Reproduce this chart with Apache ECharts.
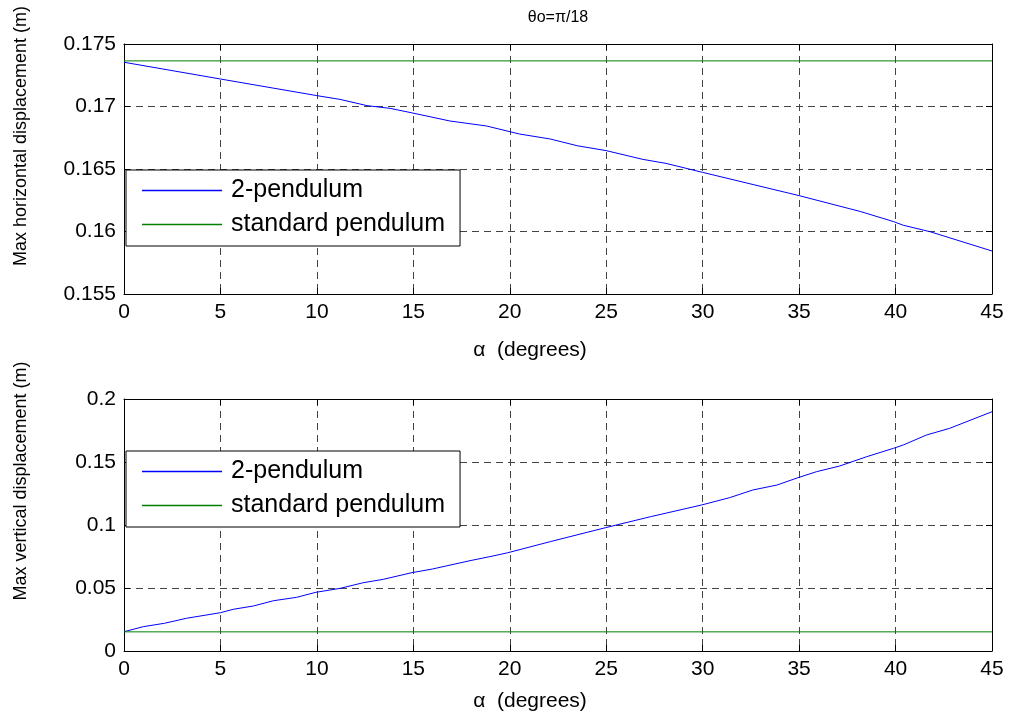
<!DOCTYPE html>
<html>
<head>
<meta charset="utf-8">
<script src="https://cdn.jsdelivr.net/npm/echarts@6/dist/echarts.min.js"></script>
<style>
html,body{margin:0;padding:0;background:#fff;}
#chart{width:1010px;height:721px;}
</style>
</head>
<body>
<div id="chart"></div>
<script>
// ---- data ----
var titleText = 'θo=π/18';
var seriesNames = ['2-pendulum', 'standard pendulum'];

// top: max horizontal displacement (m)
var hAlpha = [0, 5, 10, 11.2, 12.6, 13.8, 14.9, 16.9, 18.8, 20.5, 22.1, 23.5, 25, 26.9, 28.1, 30, 35, 38.2, 39.9, 40.4, 41.8, 45];
var hTwo   = [0.17354, 0.1722, 0.17087, 0.17057, 0.17007, 0.16985, 0.1695, 0.16884, 0.16844, 0.1678, 0.1674, 0.16686, 0.16647, 0.16577, 0.16545, 0.16473, 0.16287, 0.16159, 0.16079, 0.1605, 0.15998, 0.15844];
var hStdAlpha = [0, 45];
var hStd   = [0.17365, 0.17365];

// bottom: max vertical displacement (m)
var vAlpha = [0, 1.0, 2.1, 3.25, 5, 5.67, 6.7, 7.75, 8.95, 9.95, 11.2, 12.4, 13.45, 14.93, 16.0, 17.94, 18.97, 19.9, 22.1, 24.97, 27.3, 29.95, 31.4, 32.6, 33.85, 34.93, 35.9, 37.1, 38.5, 39.9, 40.4, 41.6, 42.8, 45];
var vTwo   = [0.0153, 0.0193, 0.0220, 0.0260, 0.0304, 0.0331, 0.0357, 0.0399, 0.0426, 0.0466, 0.0497, 0.0542, 0.0569, 0.0622, 0.0651, 0.0717, 0.0749, 0.0780, 0.0868, 0.0979, 0.1066, 0.1159, 0.1217, 0.1278, 0.1317, 0.1375, 0.1423, 0.1468, 0.1542, 0.1609, 0.1635, 0.1714, 0.1767, 0.1899];
var vStdAlpha = [0, 45];
var vStd   = [0.0152, 0.0152];

var xTicks = {min: 0, max: 45, interval: 5};
var yTopTicks = {min: 0.155, max: 0.175, interval: 0.005};
var yBotTicks = {min: 0, max: 0.2, interval: 0.05};

var xLabel = 'α  (degrees)';
var yTopLabel = 'Max horizontal displacement (m)';
var yBotLabel = 'Max vertical displacement (m)';

// ---- chart ----
function pairs(xs, ys){ return xs.map(function(x,i){ return [x, ys[i]]; }); }
var FONT = '"Liberation Sans", Arial, Helvetica, sans-serif';
var TICKFS = 21;
function fmt(v){ return String(parseFloat(v.toFixed(4))); }
var gridLine = {show:true, lineStyle:{color:'#444', type:[7,5], width:1}};

function xAxisPair(gi){
  return [
    {type:'value', gridIndex:gi, position:'bottom', min:xTicks.min, max:xTicks.max, interval:xTicks.interval,
     axisLine:{show:true, onZero:false, lineStyle:{color:'#000', width:1}},
     axisTick:{show:true, inside:true, length:6, lineStyle:{color:'#000'}},
     axisLabel:{color:'#000', fontSize:TICKFS, fontFamily:FONT, margin:8, formatter:fmt},
     splitLine:gridLine},
    {type:'value', gridIndex:gi, position:'top', min:xTicks.min, max:xTicks.max, interval:xTicks.interval,
     axisLine:{show:true, onZero:false, lineStyle:{color:'#000', width:1}},
     axisTick:{show:true, inside:true, length:6, lineStyle:{color:'#000'}},
     axisLabel:{show:false}, splitLine:{show:false}}
  ];
}
function yAxisPair(gi, t){
  return [
    {type:'value', gridIndex:gi, position:'left', min:t.min, max:t.max, interval:t.interval,
     axisLine:{show:true, onZero:false, lineStyle:{color:'#000', width:1}},
     axisTick:{show:true, inside:true, length:6, lineStyle:{color:'#000'}},
     axisLabel:{color:'#000', fontSize:TICKFS, fontFamily:FONT, margin:8, formatter:fmt},
     splitLine:gridLine},
    {type:'value', gridIndex:gi, position:'right', min:t.min, max:t.max, interval:t.interval,
     axisLine:{show:true, onZero:false, lineStyle:{color:'#000', width:1}},
     axisTick:{show:true, inside:true, length:6, lineStyle:{color:'#000'}},
     axisLabel:{show:false}, splitLine:{show:false}}
  ];
}
function legendAt(top){
  return {
    left:126, top:top, orient:'vertical', data:seriesNames,
    icon:'rect', itemWidth:80, itemHeight:1.5, itemGap:9,
    padding:[8,15,9,16], backgroundColor:'#fff', borderColor:'#000', borderWidth:1,
    textStyle:{color:'#000', fontSize:25, fontFamily:FONT, lineHeight:24, padding:[0,0,0,4]},
    selectedMode:false
  };
}
function line(name, xi, yi, data, color){
  return {type:'line', name:name, xAxisIndex:xi, yAxisIndex:yi, data:data, showSymbol:false, symbol:'none',
          animation:false, lineStyle:{color:color, width:1}, itemStyle:{color:color}, z:3};
}

var chart = echarts.init(document.getElementById('chart'), null, {renderer:'canvas'});
chart.setOption({
  backgroundColor:'#fff',
  animation:false,
  grid:[
    {left:124, right:18, top:44, height:250, containLabel:false},
    {left:124, right:18, top:399, height:252, containLabel:false}
  ],
  xAxis: xAxisPair(0).concat(xAxisPair(1)),
  yAxis: yAxisPair(0, yTopTicks).concat(yAxisPair(1, yBotTicks)),
  legend:[legendAt(170), legendAt(451)],
  series:[
    line(seriesNames[0], 0, 0, pairs(hAlpha, hTwo), '#0000ff'),
    line(seriesNames[1], 0, 0, pairs(hStdAlpha, hStd), '#008000'),
    line(seriesNames[0], 2, 2, pairs(vAlpha, vTwo), '#0000ff'),
    line(seriesNames[1], 2, 2, pairs(vStdAlpha, vStd), '#008000')
  ],
  graphic:[
    {type:'text', style:{text:titleText, fontSize:16, fontFamily:FONT, fill:'#000', x:558, y:18, align:'center', verticalAlign:'middle'}},
    {type:'text', style:{text:xLabel, fontSize:21, fontFamily:FONT, fill:'#000', x:530, y:350, align:'center', verticalAlign:'middle'}},
    {type:'text', style:{text:xLabel, fontSize:21, fontFamily:FONT, fill:'#000', x:530, y:701, align:'center', verticalAlign:'middle'}},
    {type:'text', x:21, y:136, rotation:Math.PI/2, style:{text:yTopLabel, fontSize:18, fontFamily:FONT, fill:'#000', x:0, y:0, align:'center', verticalAlign:'middle'}},
    {type:'text', x:21, y:481, rotation:Math.PI/2, style:{text:yBotLabel, fontSize:18, fontFamily:FONT, fill:'#000', x:0, y:0, align:'center', verticalAlign:'middle'}}
  ]
});
</script>
</body>
</html>
